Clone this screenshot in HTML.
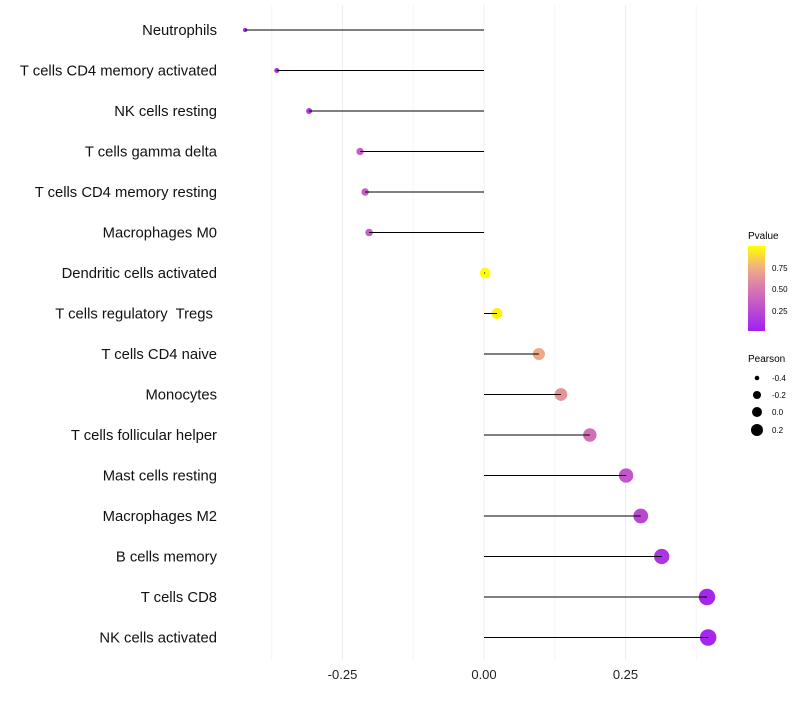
<!DOCTYPE html>
<html><head><meta charset="utf-8"><style>
body{margin:0;background:#fff;font-family:"Liberation Sans",sans-serif;}
svg text{font-family:"Liberation Sans",sans-serif;white-space:pre;}
</style></head><body>
<svg id="chart" width="800" height="700" xmlns="http://www.w3.org/2000/svg">
<defs><linearGradient id="pg" x1="0" y1="1" x2="0" y2="0">
<stop offset="0" stop-color="#A020F0"/><stop offset="0.5" stop-color="#D878B0"/><stop offset="0.75" stop-color="#F0B080"/><stop offset="1" stop-color="#FFFF00"/></linearGradient></defs>
<g id="grid"></g><g id="marks"></g><g id="labels"></g>
<g>
<text x="748" y="239" font-size="10">Pvalue</text>
<rect x="748" y="246" width="17" height="85" fill="url(#pg)"/>
<text x="772" y="271" font-size="8">0.75</text>
<text x="772" y="292" font-size="8">0.50</text>
<text x="772" y="314" font-size="8">0.25</text>
</g>
<g>
<text x="748" y="362" font-size="10">Pearson</text>
<circle cx="757" cy="378" r="2.3"/><text x="772" y="381" font-size="8">-0.4</text>
<circle cx="757" cy="395" r="4"/><text x="772" y="398" font-size="8">-0.2</text>
<circle cx="757" cy="412" r="5"/><text x="772" y="415" font-size="8">0.0</text>
<circle cx="757" cy="430" r="6"/><text x="772" y="433" font-size="8">0.2</text>
</g>
</svg>
<script>
const categories=["Neutrophils","T cells CD4 memory activated","NK cells resting","T cells gamma delta","T cells CD4 memory resting","Macrophages M0","Dendritic cells activated","T cells regulatory  Tregs ","T cells CD4 naive","Monocytes","T cells follicular helper","Mast cells resting","Macrophages M2","B cells memory","T cells CD8","NK cells activated"];
const pearson=[-0.422,-0.366,-0.309,-0.219,-0.210,-0.203,0.002,0.023,0.097,0.136,0.187,0.251,0.277,0.314,0.394,0.396];
const pvalue=[0.02,0.06,0.12,0.35,0.35,0.35,1.0,0.95,0.72,0.62,0.45,0.3,0.22,0.12,0.04,0.04];
const xTicks=[-0.25,0,0.25];
const xTickLabels=["-0.25","0.00","0.25"];
const NS="http://www.w3.org/2000/svg";
const xs=v=>484+v*566;
const ys=i=>30+i*40.5;
const rs=v=>Math.max(1.8,2.3+(v+0.4)*7.5);
function lerp(a,b,t){return a.map((x,i)=>Math.round(x+(b[i]-x)*t));}
function col(p){const s=[[0,[160,32,240]],[0.5,[216,120,176]],[0.75,[240,176,128]],[1,[255,255,0]]];
for(let k=1;k<s.length;k++){if(p<=s[k][0]){const t=(p-s[k-1][0])/(s[k][0]-s[k-1][0]);const c=lerp(s[k-1][1],s[k][1],t);return `rgb(${c})`;}}return "rgb(255,255,0)";}
function mk(t,a,p){const e=document.createElementNS(NS,t);for(const k in a)e.setAttribute(k,a[k]);p.appendChild(e);return e;}
const g=document.getElementById('grid'),m=document.getElementById('marks'),l=document.getElementById('labels');
[-0.375,-0.125,0.125,0.375].forEach(v=>{const e=mk('line',{x1:xs(v),x2:xs(v),y1:5,y2:660,stroke:'#f5f5f5','stroke-width':1},g);

});
xTicks.forEach((v,i)=>{const e=mk('line',{x1:xs(v),x2:xs(v),y1:5,y2:660,stroke:'#ededed','stroke-width':1},g);


const t=mk('text',{x:xs(v),y:679,'text-anchor':'middle','font-size':13,fill:'#222'},l);t.textContent=xTickLabels[i];

});
categories.forEach((c,i)=>{const y=ys(i);
const t=mk('text',{x:217,y:y+5,'text-anchor':'end','font-size':14.8,fill:'#111'},l);t.textContent=c;


const pt=mk('circle',{cx:xs(pearson[i]),cy:y,r:rs(pearson[i]),fill:col(pvalue[i])},m);


const ln=mk('line',{x1:xs(0),x2:xs(pearson[i]),y1:y,y2:y,stroke:'#000','stroke-width':1},m);

});
</script>
</body></html>
